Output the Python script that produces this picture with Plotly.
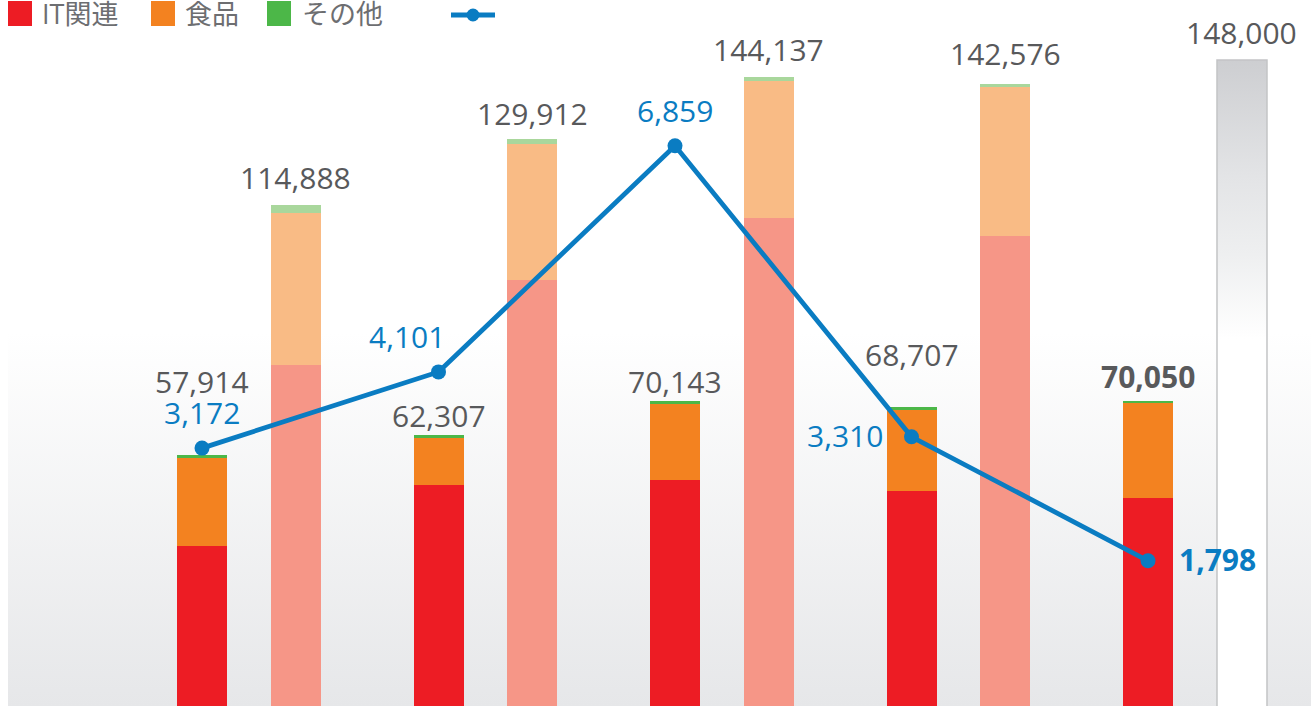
import base64
import plotly.graph_objects as go

# ---------------- data ----------------
groups = [0, 1, 2, 3, 4]
legend_names = ["IT関連", "食品", "その他"]

# solid (first) bars of each pair
it_solid = [37055, 50913, 52215, 49543, 48014]
food_solid = [20182, 10799, 17191, 18562, 21758]
other_solid = [677, 595, 737, 602, 278]
total_solid = [57914, 62307, 70143, 68707, 70050]

# light (second) bars of each pair
it_light = [78379, 97717, 111941, 107831]
food_light = [34635, 31050, 31210, 33950]
other_light = [1874, 1145, 986, 795]
total_light = [114888, 129912, 144137, 142576]

# target bar
target_value = 148000

# line series (secondary axis)
line_values = [3172, 4101, 6859, 3310, 1798]

# ---------------- style ----------------
W, H = 1311, 706
OFF = 0.1987          # half distance between bars of a pair (group units)
BW = 0.2114           # bar width (group units)
K1 = 0.00438          # px per unit, primary axis
K2 = 0.0820           # px per unit, secondary axis
ZERO_PX = 708.2       # pixel row of zero value

C_RED, C_ORANGE, C_GREEN = "#ed1c24", "#f38220", "#4cb748"
C_RED_L, C_ORANGE_L, C_GREEN_L = "#f69687", "#f9bb85", "#a9d79c"
C_BLUE = "#0a7cc2"
C_TEXT = "#58595b"
FONT = "Open Sans, Noto Sans CJK JP, sans-serif"
FS = 30

x_solid = [g - OFF for g in groups]
x_light = [g + OFF for g in groups[:len(total_light)]]
x_target = groups[-1] + OFF

fig = go.Figure()

# target bar as gradient-filled polygon
fig.add_trace(go.Scatter(
    x=[x_target - BW / 2, x_target + BW / 2, x_target + BW / 2, x_target - BW / 2, x_target - BW / 2],
    y=[0, 0, target_value, target_value, 0],
    fill="toself", mode="lines",
    line=dict(color="#c3c4c6", width=1.5),
    fillgradient=dict(type="vertical",
                      colorscale=[[0, "#ffffff"], [0.57, "#ffffff"], [0.7, "#eeeff0"],
                                  [0.82, "#e3e4e6"], [1, "#cdced1"]]),
    hoverinfo="skip", showlegend=False))

for vals, col in [(it_solid, C_RED), (food_solid, C_ORANGE), (other_solid, C_GREEN)]:
    fig.add_trace(go.Bar(x=x_solid, y=vals, width=BW, marker=dict(color=col, line=dict(width=0)),
                         showlegend=False))
for vals, col in [(it_light, C_RED_L), (food_light, C_ORANGE_L), (other_light, C_GREEN_L)]:
    fig.add_trace(go.Bar(x=x_light, y=vals, width=BW, marker=dict(color=col, line=dict(width=0)),
                         showlegend=False))

fig.add_trace(go.Scatter(x=x_solid, y=line_values, yaxis="y2", mode="lines+markers",
                         line=dict(color=C_BLUE, width=4.8),
                         marker=dict(size=15, color=C_BLUE),
                         showlegend=False, cliponaxis=False))

annotations = []
# total labels
solid_shift = [73, 20, 19.5, 53, 25]
solid_bold = [False, False, False, False, True]
for x, v, s, b in zip(x_solid, total_solid, solid_shift, solid_bold):
    txt = f"{v:,}"
    annotations.append(dict(x=x, y=v, text=f"<b>{txt}</b>" if b else txt, showarrow=False,
                            yanchor="middle", yshift=s, font=dict(size=FS, color=C_TEXT, family=FONT)))
light_shift = [27, 26, 27, 30]
for x, v, s in zip(x_light, total_light, light_shift):
    annotations.append(dict(x=x, y=v, text=f"{v:,}", showarrow=False,
                            yanchor="middle", yshift=s, font=dict(size=FS, color=C_TEXT, family=FONT)))
annotations.append(dict(x=x_target, y=target_value, text=f"{target_value:,}", showarrow=False,
                        yanchor="middle", yshift=27, font=dict(size=FS, color=C_TEXT, family=FONT)))
# line labels
line_xshift = [0, -32, 0, -67, 69]
line_yshift = [36, 35, 35, 1, 1]
line_bold = [False, False, False, False, True]
for x, v, xs, ys, b in zip(x_solid, line_values, line_xshift, line_yshift, line_bold):
    txt = f"{v:,}"
    annotations.append(dict(x=x, y=v, yref="y2", text=f"<b>{txt}</b>" if b else txt, showarrow=False,
                            yanchor="middle", xshift=xs, yshift=ys,
                            font=dict(size=FS, color=C_BLUE, family=FONT)))

# manual legend
def px(x):
    return x / W

def py(y):
    return 1 - y / H

shapes = []
leg_sq_x = [8, 151, 267]
leg_tx_x = [40, 183, 300]
for name, col, sx, tx in zip(legend_names, [C_RED, C_ORANGE, C_GREEN], leg_sq_x, leg_tx_x):
    shapes.append(dict(type="rect", xref="paper", yref="paper", x0=px(sx), x1=px(sx + 24),
                       y0=py(26), y1=py(1), fillcolor=col, line=dict(width=0), layer="above"))
    annotations.append(dict(xref="paper", yref="paper", x=px(tx), y=py(13.5), text=name,
                            showarrow=False, xanchor="left", yanchor="middle",
                            font=dict(size=27, color="#6d6e71", family=FONT)))
shapes.append(dict(type="line", xref="paper", yref="paper", x0=px(451), x1=px(495),
                   y0=py(15), y1=py(15), line=dict(color=C_BLUE, width=5), layer="above"))
shapes.append(dict(type="circle", xref="paper", yref="paper", x0=px(466.5), x1=px(479.5),
                   y0=py(21.5), y1=py(8.5), fillcolor=C_BLUE, line=dict(width=0), layer="above"))

# background gradient
svg = (f'<svg xmlns="http://www.w3.org/2000/svg" width="{W-8}" height="{H}" preserveAspectRatio="none">'
       '<defs><linearGradient id="g" x1="0" y1="0" x2="0" y2="1">'
       '<stop offset="0" stop-color="#ffffff"/><stop offset="0.47" stop-color="#ffffff"/>'
       '<stop offset="1" stop-color="#e6e7e9"/></linearGradient></defs>'
       f'<rect x="0" y="0" width="{W-8}" height="{H}" fill="url(#g)"/></svg>')
bg_uri = "data:image/svg+xml;base64," + base64.b64encode(svg.encode()).decode()

xr = [-249 / 236.5, (W - 249) / 236.5]
# plot area spans pixel rows 0..H; zero sits at ZERO_PX (just below the bottom edge)
y1r = [(ZERO_PX - H) / K1, ZERO_PX / K1]
y2r = [(ZERO_PX - H) / K2, ZERO_PX / K2]

fig.update_layout(
    width=W, height=H, margin=dict(l=0, r=0, t=0, b=0),
    barmode="stack", bargap=0,
    paper_bgcolor="white", plot_bgcolor="rgba(0,0,0,0)",
    xaxis=dict(range=xr, visible=False, fixedrange=True),
    yaxis=dict(range=y1r, visible=False, fixedrange=True),
    yaxis2=dict(range=y2r, visible=False, overlaying="y", side="right", fixedrange=True),
    annotations=annotations, shapes=shapes,
    images=[dict(source=bg_uri, xref="paper", yref="paper", x=8 / W, y=1, sizex=1 - 8 / W, sizey=1,
                 xanchor="left", yanchor="top", sizing="stretch", layer="below")],
    font=dict(family=FONT),
    showlegend=False,
)

fig.write_html("out.html", config={"displayModeBar": False},
               post_script="document.body.style.margin='0';document.body.style.overflow='hidden';")
